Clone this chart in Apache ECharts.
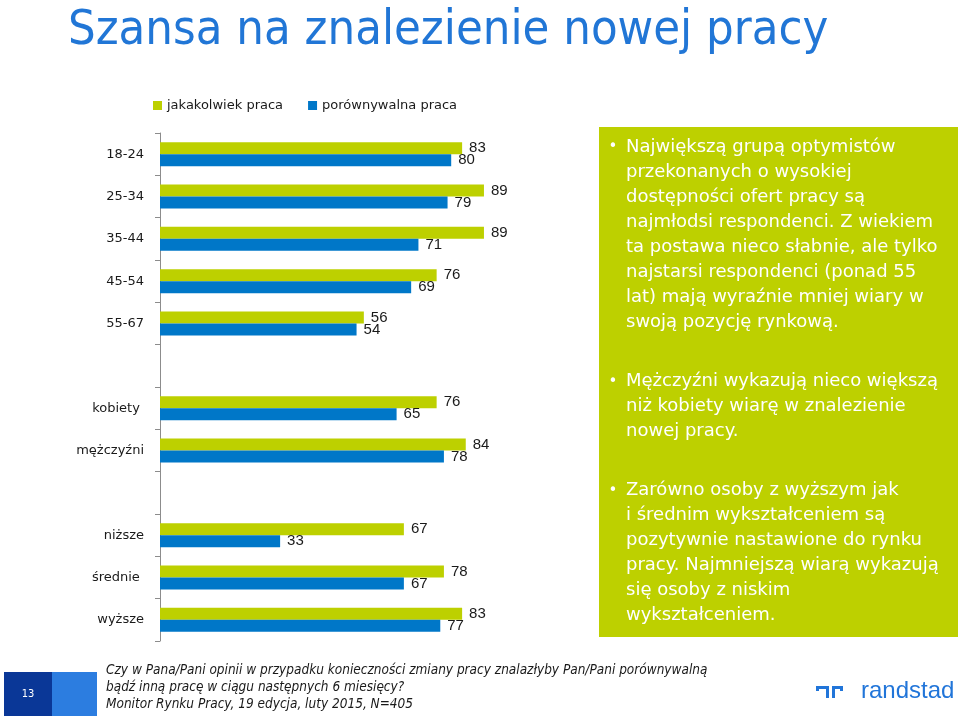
<!DOCTYPE html>
<html>
<head>
<meta charset="utf-8">
<script src="https://cdn.jsdelivr.net/npm/echarts@6/dist/echarts.min.js"></script>
<style>
html,body{margin:0;padding:0;background:#fff;}
#chart{width:960px;height:720px;}
</style>
</head>
<body>
<div id="chart"></div>
<script>
// ---- data ----
var seriesNames = ['jakakolwiek praca', 'porównywalna praca'];
var ageCats = ['18-24', '25-34', '35-44', '45-54', '55-67'];
var ageAny = [83, 89, 89, 76, 56];
var ageComparable = [80, 79, 71, 69, 54];
var sexCats = ['kobiety ', 'mężczyźni'];
var sexAny = [76, 84];
var sexComparable = [65, 78];
var eduCats = ['niższe', 'średnie ', 'wyższe'];
var eduAny = [67, 78, 83];
var eduComparable = [33, 67, 77];

var titleText = 'Szansa na znalezienie nowej pracy';
var box1Lines = ['Największą grupą optymistów', 'przekonanych o wysokiej', 'dostępności ofert pracy są',
  'najmłodsi respondenci. Z wiekiem', 'ta postawa nieco słabnie, ale tylko',
  'najstarsi respondenci (ponad 55', 'lat) mają wyraźnie mniej wiary w', 'swoją pozycję rynkową.'];
var box2Lines = ['Mężczyźni wykazują nieco większą', 'niż kobiety wiarę w znalezienie', 'nowej pracy.'];
var box3Lines = ['Zarówno osoby z wyższym jak', 'i średnim wykształceniem są', 'pozytywnie nastawione do rynku',
  'pracy. Najmniejszą wiarą wykazują', 'się osoby z niskim', 'wykształceniem.'];
var footerLines = ['Czy w Pana/Pani opinii w przypadku konieczności zmiany pracy znalazłyby Pan/Pani porównywalną',
  'bądź inną pracę w ciągu następnych 6 miesięcy?', 'Monitor Rynku Pracy, 19 edycja, luty 2015, N=405'];
var pageNumber = '13';

// combined category axis with blank spacer rows
var categories = ageCats.concat([''], sexCats, [' '], eduCats);
var anyData = ageAny.concat([null], sexAny, [null], eduAny);
var compData = ageComparable.concat([null], sexComparable, [null], eduComparable);

var GREEN = '#bdd000';
var BLUE = '#0077c8';
var TITLEBLUE = '#2176d6';

var chart = echarts.init(document.getElementById('chart'));
var labelStyle = {show: true, position: 'right', distance: 7, color: '#1a1a1a',
  fontFamily: 'Liberation Sans', fontSize: 15};

var option = {
  animation: false,
  backgroundColor: '#ffffff',
  legend: {
    data: seriesNames, left: 148, top: 94, icon: 'rect', itemWidth: 9, itemHeight: 9, itemGap: 25,
    textStyle: {fontFamily: 'DejaVu Sans', fontSize: 13, color: '#1a1a1a'}
  },
  grid: {left: 160, top: 133, width: 364, height: 508, containLabel: false},
  xAxis: {type: 'value', min: 0, max: 100, show: false},
  yAxis: {
    type: 'category', data: categories, inverse: true,
    axisLine: {show: true, lineStyle: {color: '#8c8c8c', width: 1}},
    axisTick: {show: true, length: 5, lineStyle: {color: '#8c8c8c'}},
    axisLabel: {margin: 16, fontFamily: 'DejaVu Sans', fontSize: 13, color: '#1a1a1a'}
  },
  series: [
    {name: seriesNames[0], type: 'bar', data: anyData, barWidth: 12, barGap: '0%',
      itemStyle: {color: GREEN}, label: labelStyle},
    {name: seriesNames[1], type: 'bar', data: compData, barWidth: 12, barGap: '0%',
      itemStyle: {color: BLUE}, label: labelStyle}
  ],
  graphic: {elements: []}
};

var g = option.graphic.elements;
// title
g.push({type: 'text', x: 68, y: 31, style: {text: titleText, fill: TITLEBLUE,
  font: '48.5px "DejaVu Sans Condensed", "DejaVu Sans"', verticalAlign: 'middle'}});
// green panel
g.push({type: 'rect', shape: {x: 599, y: 127, width: 359, height: 510}, style: {fill: GREEN}});
function para(lines, firstCenter) {
  g.push({type: 'text', x: 626, y: firstCenter - 12.5, style: {text: lines.join('\n'), fill: '#ffffff',
    font: '18px "DejaVu Sans"', lineHeight: 25}});
  g.push({type: 'text', x: 613, y: firstCenter, style: {text: '•', fill: '#ffffff',
    font: '15px "DejaVu Sans"', align: 'center', verticalAlign: 'middle'}});
}
para(box1Lines, 147);
para(box2Lines, 381.7);
para(box3Lines, 490.7);
// footer
g.push({type: 'rect', shape: {x: 4, y: 672, width: 48, height: 44}, style: {fill: '#0a3797'}});
g.push({type: 'rect', shape: {x: 52, y: 672, width: 45, height: 44}, style: {fill: '#2c7de0'}});
g.push({type: 'text', x: 28, y: 694, style: {text: pageNumber, fill: '#ffffff',
  font: '11px "DejaVu Sans Condensed", "DejaVu Sans"', align: 'center', verticalAlign: 'middle'}});
g.push({type: 'text', x: 106, y: 661.5, style: {text: footerLines.join('\n'), fill: '#1a1a1a',
  font: 'italic 13.5px "DejaVu Sans Condensed", "DejaVu Sans"', lineHeight: 17}});
// randstad logo
var LB = '#2175d9';
[[816,686,13,3],[816,686,3,5],[826,686,3,12],[832,686,3,12],[832,686,11,3],[840,686,3,5]].forEach(function(r){
  g.push({type: 'rect', shape: {x: r[0], y: r[1], width: r[2], height: r[3]}, style: {fill: LB}});
});
g.push({type: 'text', x: 861, y: 691, style: {text: 'randstad', fill: LB,
  font: '24px "Liberation Sans"', verticalAlign: 'middle'}});

chart.setOption(option);
</script>
</body>
</html>
